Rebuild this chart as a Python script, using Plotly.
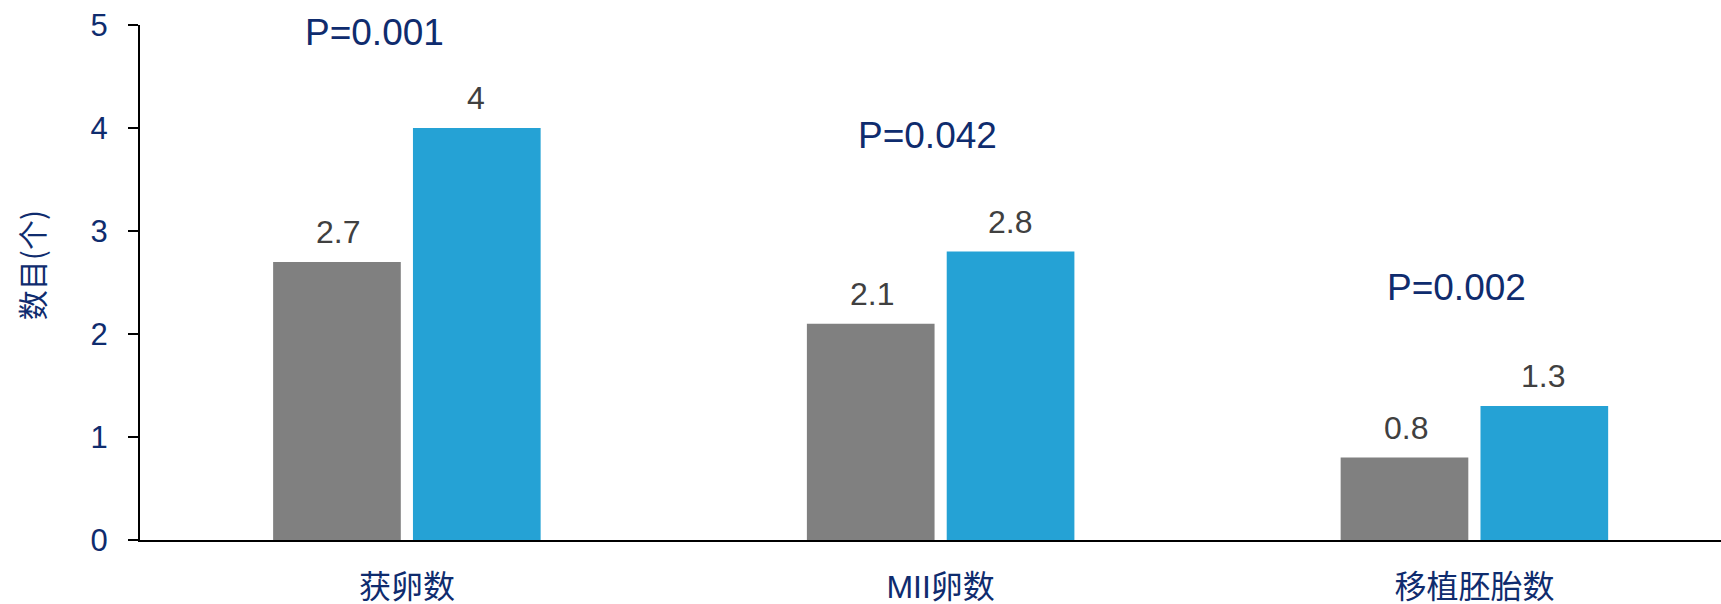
import plotly.graph_objects as go

# Category labels and group values
categories = ["获卵数", "MII卵数", "移植胚胎数"]
group_a = [2.7, 2.1, 0.8]
group_b = [4.0, 2.8, 1.3]

# Significance labels, their horizontal nudge from the category centre and their height
p_labels = ["P=0.001", "P=0.042", "P=0.002"]
p_nudge = [-0.06, -0.025, -0.033]
p_heights = [4.93, 3.93, 2.45]

y_ticks = [0, 1, 2, 3, 4, 5]

NAVY = "#0F2C6E"
GREY = "#808080"
BLUE = "#25A2D5"
LATIN = "Liberation Sans, Arial, sans-serif"
MIXED = "Liberation Sans, Noto Sans CJK SC, sans-serif"
CJK = "Noto Sans CJK SC, sans-serif"

fig = go.Figure()
fig.add_trace(go.Bar(x=categories, y=group_a, marker=dict(color=GREY, line=dict(width=0)),
                     showlegend=False))
fig.add_trace(go.Bar(x=categories, y=group_b, marker=dict(color=BLUE, line=dict(width=0)),
                     showlegend=False))

annotations = []
# value labels above each bar
offset = 0.129
for i, (a, b) in enumerate(zip(group_a, group_b)):
    for val, dx in ((a, -offset), (b, offset)):
        annotations.append(dict(
            x=i + dx, y=val, xref="x", yref="y", text=f"{val:g}",
            showarrow=False, yanchor="bottom", yshift=10,
            font=dict(family=LATIN, size=32, color="#404040")))

# P value labels
for i, (txt, dx, h) in enumerate(zip(p_labels, p_nudge, p_heights)):
    annotations.append(dict(
        x=i + dx, y=h, xref="x", yref="y", text=txt, showarrow=False,
        yanchor="middle", font=dict(family=LATIN, size=37, color=NAVY)))

# y axis title
annotations.append(dict(
    x=-0.0688, y=0.534, xref="paper", yref="paper", text="数目(个)",
    textangle=-90, showarrow=False, xanchor="center", yanchor="middle",
    font=dict(family=CJK, size=30, color=NAVY)))

fig.update_layout(
    width=1721, height=604,
    margin=dict(l=140, r=0, t=25, b=64),
    paper_bgcolor="white", plot_bgcolor="white",
    barmode="group", bargap=0.476, bargroupgap=0.087,
    annotations=annotations,
    xaxis=dict(
        range=[-0.5, 2.462], showline=True, linecolor="black", linewidth=2,
        ticks="", showgrid=False, zeroline=False, ticklabelstandoff=18,
        tickfont=dict(family=MIXED, size=32, color=NAVY),
    ),
    yaxis=dict(
        range=[0, 5], tickvals=y_ticks, showline=True, linecolor="black", linewidth=2,
        ticks="outside", ticklen=10, tickwidth=1.5, tickcolor="black",
        showgrid=False, zeroline=False, ticklabelstandoff=14,
        tickfont=dict(family=LATIN, size=31, color=NAVY),
    ),
)

fig.write_html("out.html")
